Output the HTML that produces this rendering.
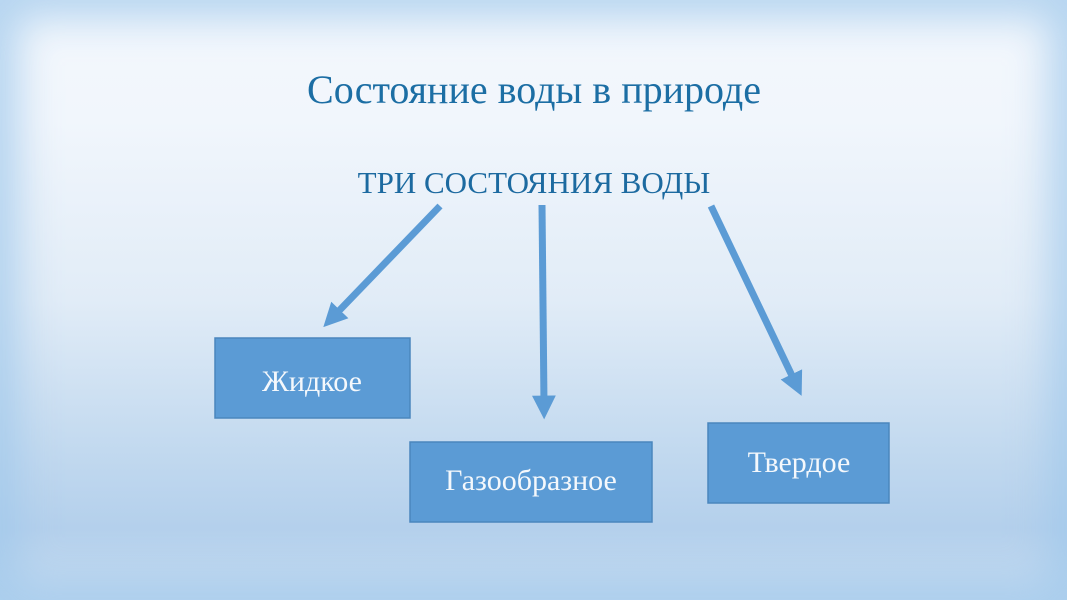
<!DOCTYPE html>
<html><head><meta charset="utf-8"><style>
html,body{margin:0;padding:0;}
body{width:1067px;height:600px;overflow:hidden;position:relative;
background:linear-gradient(to bottom,#f4f8fd 0%,#f1f6fc 20%,#e1ecf7 50%,#c2d9ef 75%,#b4d0ec 88%,#c6dcf1 100%);}
.frame{position:absolute;inset:0;box-shadow:inset 0 0 40px 18px rgba(160,200,235,0.75);}
svg{position:absolute;left:0;top:0;}
</style></head><body>
<div class="frame"></div>
<svg width="1067" height="600" viewBox="0 0 1067 600">
<defs>
<marker id="a" markerWidth="3.4" markerHeight="3.4" refX="1.2" refY="1.7" orient="auto" markerUnits="strokeWidth">
<path d="M0,0 L3.4,1.7 L0,3.4 z" fill="#5b9bd5"/></marker>
</defs>
<text x="534" y="103" text-anchor="middle" font-family="Liberation Serif,serif" font-size="40" fill="#1c6ea4">Состояние воды в природе</text>
<text x="534" y="193" text-anchor="middle" font-family="Liberation Serif,serif" font-size="31" fill="#1c6aa0">ТРИ СОСТОЯНИЯ ВОДЫ</text>
<g stroke="#5b9bd5" stroke-width="7" fill="none">
<line x1="440" y1="206" x2="334" y2="316" marker-end="url(#a)"/>
<line x1="542" y1="205" x2="544" y2="404" marker-end="url(#a)"/>
<line x1="711" y1="206" x2="795" y2="382" marker-end="url(#a)"/>
</g>
<g fill="#5b9bd5" stroke="#4a86bd" stroke-width="1.5">
<rect x="215" y="338" width="195" height="80"/>
<rect x="410" y="442" width="242" height="80"/>
<rect x="708" y="423" width="181" height="80"/>
</g>
<g font-family="Liberation Serif,serif" font-size="30" fill="#f4f8fc" text-anchor="middle">
<text x="312" y="391">Жидкое</text>
<text x="531" y="490">Газообразное</text>
<text x="799" y="472">Твердое</text>
</g>
</svg>
</body></html>
